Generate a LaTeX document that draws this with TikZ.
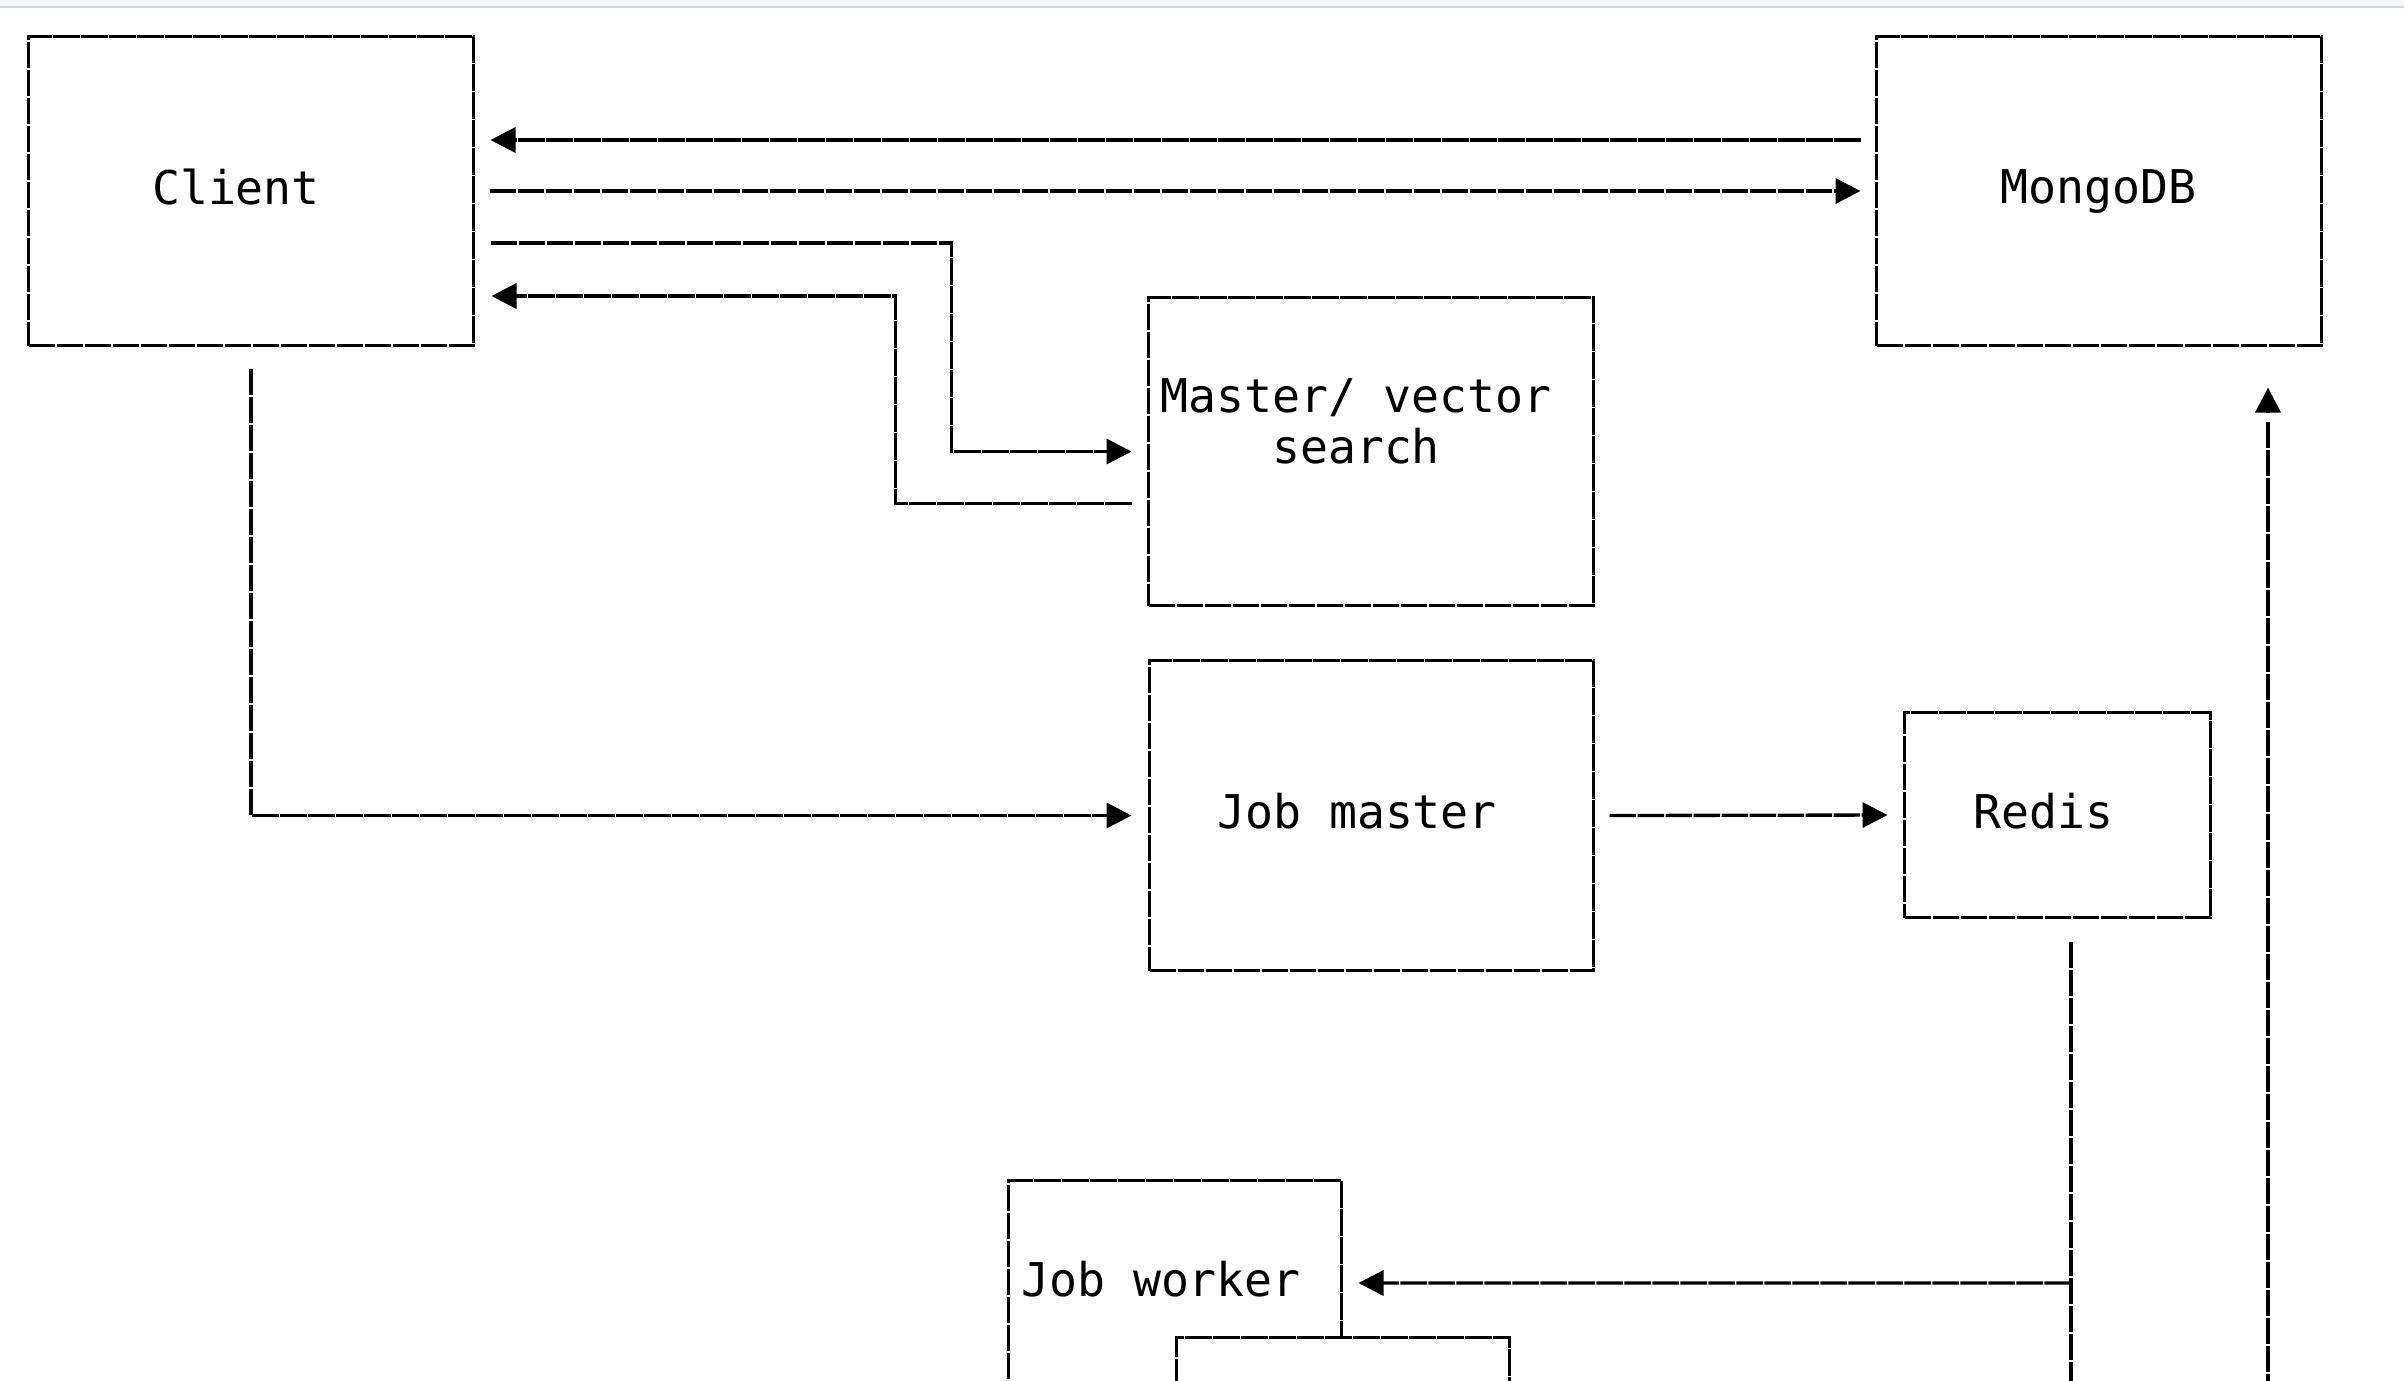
\documentclass[tikz,border=0pt]{standalone}
\usepackage{fontspec}
\newfontfamily\asciifont{DejaVu Sans Mono}
\usetikzlibrary{arrows.meta,calc}
\definecolor{barfill}{HTML}{F6F8FA}
\definecolor{barline}{HTML}{D1D9E0}

\begin{document}
\begin{tikzpicture}[x=0.3pt,y=-0.3pt,
		box/.style={draw,line width=1pt,dash pattern=on 8pt off 0.4pt,inner sep=0pt,outer sep=0pt},
		wire/.style={line width=1pt,dash pattern=on 8pt off 0.4pt},
		wirearrow/.style={wire,-{Triangle[length=7.5pt,width=7.5pt]}},
		txt/.style={font=\asciifont\fontsize{13.95}{15.3}\selectfont,inner sep=0pt,anchor=base,align=center}]
		\clip (0,0) rectangle (2404,1380);
		\fill[white] (0,0) rectangle (2404,1380);
		\fill[barfill] (0,0) rectangle (2404,7);
		\draw[barline,line width=0.6pt] (0,7) -- (2404,7);

		\node[box,minimum width=133.5pt,minimum height=92.7pt] (client) at (251,191) {};
		\node[box,minimum width=133.5pt,minimum height=92.7pt] (mongo) at (2099,191) {};
		\node[box,minimum width=133.5pt,minimum height=92.4pt] (master) at (1371,451.5) {};
		\node[box,minimum width=133.2pt,minimum height=93pt] (jobmaster) at (1371.5,815.5) {};
		\node[box,minimum width=91.8pt,minimum height=61.5pt] (redis) at (2057.5,815) {};
		\node[box,minimum width=99.9pt,minimum height=101.4pt] (worker) at (1175,1349.5) {};
		\node[box,fill=white,minimum width=99.9pt,minimum height=54.3pt] (worker2) at (1343,1428) {};

		\node[txt] (clientlbl) at (236,204) {Client};
		\node[txt] (mongolbl) at (2098,203) {MongoDB};
		\node[txt] (masterlbl) at (1356,463) {Master/ vector\\search};
		\node[txt] (jobmasterlbl) at (1357,828) {Job master};
		\node[txt] (redislbl) at (2043,828) {Redis};
		\node[txt] (workerlbl) at (1161,1296) {Job worker};

		% client and mongodb
		\draw[wirearrow] ($(mongo.west)+(-16,-51)$) -- ($(client.east)+(17,-51)$);
		\draw[wirearrow] ($(client.east)+(16,0)$) -- ($(mongo.west)+(-16,0)$);

		% client and master
		\draw[wirearrow] ($(client.east)+(17,52)$) -| ($(master.west)+(-197,0)$) -- ($(master.west)+(-17,0)$);
		\draw[wirearrow] ($(master.west)+(-17,52)$) -| ($(client.east)+(422,105)$) -- ($(client.east)+(18,105)$);

		\draw[wirearrow] ($(client.south)+(0,23)$) |- ($(jobmaster.west)+(-18,0)$);
		\draw[wirearrow] ($(jobmaster.east)+(16,0)$) -- ($(redis.west)+(-17,0)$);

		% redis down to the workers
		\draw[wire] ($(redis.south)+(13.5,24)$) -- ++(0,500);
		\draw[wirearrow] ($(redis.south)+(13.5,365.5)$) -- ($(worker.north east)+(17,102.5)$);

		% back up into mongodb
		\draw[wire] ($(mongo.south)+(169,76)$) -- ++(0,1100);
		\draw[wirearrow] ($(mongo.south)+(169,67)$) -- ($(mongo.south)+(169,42)$);
	\end{tikzpicture}
\end{document}
